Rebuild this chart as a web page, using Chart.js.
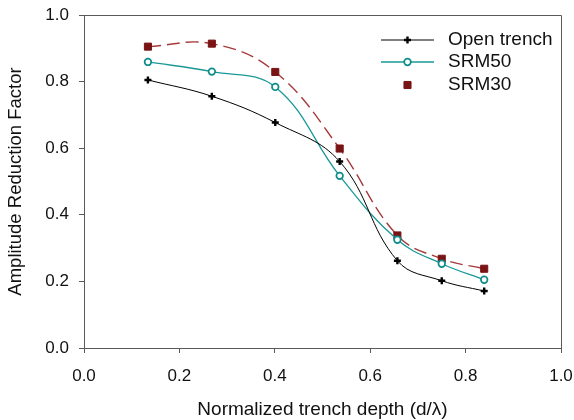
<!DOCTYPE html>
<html>
<head>
<meta charset="utf-8">
<script src="https://cdn.jsdelivr.net/npm/chart.js@4.4.1/dist/chart.umd.min.js"></script>
<style>
  html, body { margin: 0; padding: 0; background: #ffffff; }
  #wrap { width: 574px; height: 420px; position: relative; }
</style>
</head>
<body>
<div id="wrap"><canvas id="c" width="574" height="420"></canvas></div>
<script>
// ---- data ----
const depth = [0.134, 0.268, 0.401, 0.536, 0.657, 0.750, 0.839];
const openTrench = [0.805, 0.756, 0.677, 0.560, 0.262, 0.202, 0.171];
const srm50 = [0.859, 0.830, 0.784, 0.517, 0.325, 0.253, 0.205];
const srm30 = [0.905, 0.914, 0.829, 0.599, 0.338, 0.268, 0.238];
const seriesNames = ['Open trench', 'SRM50', 'SRM30'];
const xTickLabels = ['0.0', '0.2', '0.4', '0.6', '0.8', '1.0'];
const yTickLabels = ['0.0', '0.2', '0.4', '0.6', '0.8', '1.0'];
const xTitle = 'Normalized trench depth (d/\u03BB)';
const yTitle = 'Amplitude Reduction Factor';

const FONT = "'Liberation Sans', Arial, sans-serif";
const AXIS = '#5a5a5a';

function pts(ys) { return depth.map((x, i) => ({ x: x, y: ys[i] })); }

const frame = {
  id: 'frame',
  afterDraw(chart) {
    const { ctx, chartArea: a } = chart;
    ctx.save();
    ctx.strokeStyle = AXIS;
    ctx.lineWidth = 1;
    ctx.beginPath();
    ctx.moveTo(Math.round(a.left) + 0.5, Math.round(a.top) + 0.5);
    ctx.lineTo(Math.round(a.right) + 0.5, Math.round(a.top) + 0.5);
    ctx.lineTo(Math.round(a.right) + 0.5, Math.round(a.bottom) + 0.5);
    ctx.stroke();
    ctx.restore();
  }
};

const legendShowLine = [true, true, false];
const customLegend = {
  id: 'customLegend',
  afterDraw(chart) {
    const { ctx, chartArea: a } = chart;
    const x0 = a.right - 180, x1 = a.right - 127, xm = (x0 + x1) / 2, tx = a.right - 113;
    const rows = [a.top + 25, a.top + 47, a.top + 70];
    chart.data.datasets.forEach((ds, i) => {
      const y = rows[i];
      ctx.save();
      if (legendShowLine[i]) {
        ctx.strokeStyle = ds.borderColor;
        ctx.lineWidth = ds.borderWidth;
        ctx.setLineDash([]);
        ctx.beginPath();
        ctx.moveTo(x0, y);
        ctx.lineTo(x1, y);
        ctx.stroke();
      }
      ctx.fillStyle = ds.pointBackgroundColor;
      ctx.strokeStyle = ds.pointBorderColor;
      ctx.lineWidth = ds.pointBorderWidth;
      Chart.helpers.drawPoint(ctx, {
        pointStyle: ds.pointStyle,
        radius: ds.pointRadius,
        borderWidth: ds.pointBorderWidth,
        rotation: 0
      }, xm, y);
      ctx.fillStyle = '#111111';
      ctx.font = '19px ' + FONT;
      ctx.textBaseline = 'middle';
      ctx.textAlign = 'left';
      ctx.fillText(ds.label, tx, y);
      ctx.restore();
    });
  }
};

new Chart(document.getElementById('c'), {
  type: 'line',
  data: {
    datasets: [
      {
        label: seriesNames[0],
        data: pts(openTrench),
        borderColor: '#000000',
        borderWidth: 1,
        tension: 0.4,
        pointStyle: 'cross',
        pointRadius: 3.5,
        pointBorderWidth: 2.4,
        pointBorderColor: '#000000',
        pointBackgroundColor: '#000000',
        order: 1
      },
      {
        label: seriesNames[1],
        data: pts(srm50),
        borderColor: '#1a9898',
        borderWidth: 1.3,
        tension: 0.4,
        pointStyle: 'circle',
        pointRadius: 3.3,
        pointBorderWidth: 1.7,
        pointBorderColor: '#0e8c8c',
        pointBackgroundColor: '#ffffff',
        order: 2
      },
      {
        label: seriesNames[2],
        data: pts(srm30),
        borderColor: '#a53a3a',
        borderWidth: 1.4,
        borderDash: [13, 6],
        tension: 0.4,
        pointStyle: 'rect',
        pointRadius: 5,
        pointBorderWidth: 1,
        pointBorderColor: '#7a1414',
        pointBackgroundColor: '#7a1414',
        order: 3
      }
    ]
  },
  options: {
    responsive: false,
    animation: false,
    devicePixelRatio: 1,
    layout: { padding: { left: 0, right: 13, top: 15, bottom: 0 } },
    plugins: { legend: { display: false }, tooltip: { enabled: false } },
    scales: {
      x: {
        type: 'linear',
        min: 0, max: 1,
        afterFit(s) { s.height = 72; s.paddingLeft = 0; s.paddingRight = 0; },
        afterBuildTicks(s) { s.ticks = xTickLabels.map(t => ({ value: parseFloat(t) })); },
        ticks: {
          color: '#111111',
          font: { family: FONT, size: 17 },
          padding: 13,
          maxRotation: 0,
          callback: (v, i) => xTickLabels[i]
        },
        grid: { display: true, drawOnChartArea: false, drawTicks: true, tickLength: 5, color: AXIS, lineWidth: 1 },
        border: { display: true, color: AXIS, width: 1 },
        title: {
          display: true, text: xTitle, color: '#111111',
          font: { family: FONT, size: 19, lineHeight: 1 },
          padding: { top: 0, bottom: 1 }
        }
      },
      y: {
        type: 'linear',
        min: 0, max: 1,
        afterFit(s) { s.width = 84; s.paddingTop = 0; s.paddingBottom = 0; },
        afterBuildTicks(s) { s.ticks = yTickLabels.map(t => ({ value: parseFloat(t) })); },
        ticks: {
          color: '#111111',
          font: { family: FONT, size: 17 },
          padding: 10,
          callback: (v, i) => yTickLabels[i]
        },
        grid: { display: true, drawOnChartArea: false, drawTicks: true, tickLength: 5, color: AXIS, lineWidth: 1 },
        border: { display: true, color: AXIS, width: 1 },
        title: {
          display: true, text: yTitle, color: '#111111',
          font: { family: FONT, size: 18.5, lineHeight: 1 },
          padding: { top: 7, bottom: 0 }
        }
      }
    }
  },
  plugins: [frame, customLegend]
});
</script>
</body>
</html>
